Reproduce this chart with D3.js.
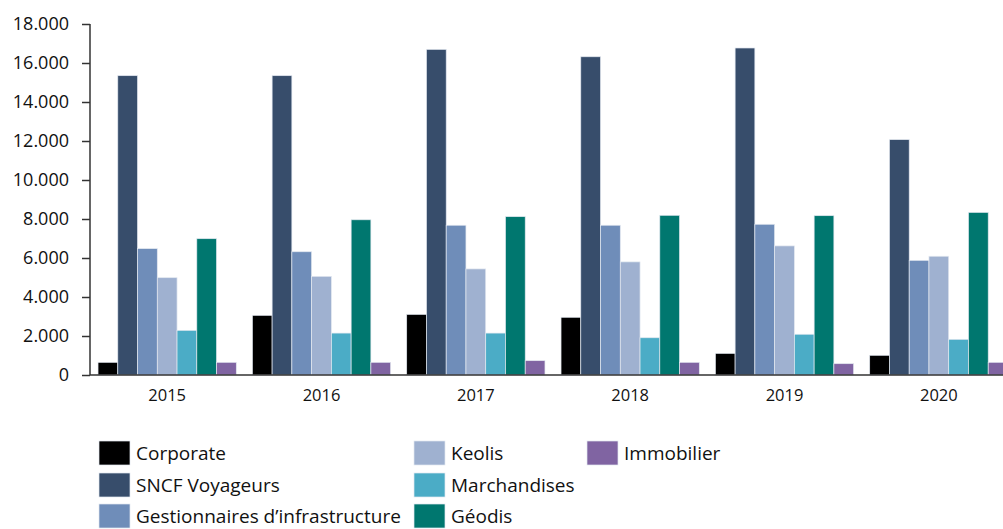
<!DOCTYPE html>
<html>
<head>
<meta charset="utf-8">
<script src="https://cdn.jsdelivr.net/npm/d3@7/dist/d3.min.js"></script>
<style>
  html, body { margin: 0; padding: 0; background: #fff; }
  svg { display: block; }
</style>
</head>
<body>
<div id="chart"></div>
<script>
// categories and series
var years = ["2015", "2016", "2017", "2018", "2019", "2020"];
var series = ["Corporate", "SNCF Voyageurs", "Gestionnaires d\u2019infrastructure", "Keolis", "Marchandises", "Géodis", "Immobilier"];
var colors = ["#000000", "#374d6b", "#6f8db9", "#9fb1d0", "#4bacc6", "#00776f", "#8064a2"];

var corporate     = [650, 3060, 3110, 2960, 1110, 1010];
var sncfVoyageurs = [15350, 15350, 16700, 16320, 16770, 12070];
var gestionnaires = [6480, 6320, 7680, 7680, 7730, 5880];
var keolis        = [4990, 5060, 5440, 5800, 6620, 6090];
var marchandises  = [2290, 2150, 2150, 1910, 2090, 1830];
var geodis        = [6990, 7960, 8120, 8190, 8170, 8340];
var immobilier    = [650, 650, 735, 650, 580, 650];

var yTicks = [0, 2000, 4000, 6000, 8000, 10000, 12000, 14000, 16000, 18000];

var values = [corporate, sncfVoyageurs, gestionnaires, keolis, marchandises, geodis, immobilier];

var w = 1003, h = 529;
var svg = d3.select("#chart").append("svg")
    .attr("width", w)
    .attr("height", h);

svg.append("rect").attr("width", w).attr("height", h).attr("fill", "#fff");

var x0 = d3.scaleBand().domain(years).range([90, 1016]).paddingInner(0.104).paddingOuter(0.052);
var x1 = d3.scaleBand().domain(d3.range(series.length)).range([0, x0.bandwidth()]);
var y = d3.scaleLinear().domain([0, 18000]).range([375, 24]);

// bars
var groups = svg.append("g").selectAll("g")
    .data(years)
    .join("g")
    .attr("transform", function (d) { return "translate(" + x0(d) + ",0)"; });

groups.selectAll("rect")
    .data(function (d, i) {
        return values.map(function (v, s) { return { s: s, v: v[i] }; });
    })
    .join("rect")
    .attr("x", function (d) { return x1(d.s); })
    .attr("y", function (d) { return y(d.v); })
    .attr("width", x1.bandwidth())
    .attr("height", function (d) { return y(0) - y(d.v); })
    .attr("fill", function (d) { return colors[d.s]; })
    .attr("stroke", "#e3e8f0")
    .attr("stroke-width", 0.7);

// y axis
var fmt = function (d) { return d === 0 ? "0" : d3.format(",")(d).replace(/,/g, "."); };
var yAxis = svg.append("g")
    .attr("transform", "translate(90,0)")
    .call(d3.axisLeft(y).tickValues(yTicks).tickFormat(fmt).tickSize(8).tickPadding(13));
yAxis.select(".domain").attr("stroke", "#333").attr("stroke-width", 1.5).attr("d", "M0,24V375");
yAxis.selectAll(".tick line").attr("stroke", "#333").attr("stroke-width", 1.5);
yAxis.selectAll("text")
    .attr("font-family", "Open Sans")
    .attr("font-size", 18)
    .attr("fill", "#111");

// x axis baseline
var xAxis = svg.append("g")
    .attr("transform", "translate(0,375)")
    .call(d3.axisBottom(x0).tickSize(0).tickPadding(14));
xAxis.select(".domain").attr("stroke", "#333").attr("stroke-width", 1.5).attr("d", "M90,0H1003");
xAxis.selectAll("text")
    .attr("font-family", "Open Sans")
    .attr("font-size", 16.5)
    .attr("fill", "#111");

// legend, three columns
var legendCols = [99, 414, 587];
var legendRows = [453, 485, 516];
var legendPos = [[0, 0], [0, 1], [0, 2], [1, 0], [1, 1], [1, 2], [2, 0]];

var legend = svg.append("g").selectAll("g")
    .data(series)
    .join("g")
    .attr("transform", function (d, i) {
        return "translate(" + legendCols[legendPos[i][0]] + "," + legendRows[legendPos[i][1]] + ")";
    });

legend.append("rect")
    .attr("x", 0)
    .attr("y", -12)
    .attr("width", 31)
    .attr("height", 24)
    .attr("fill", function (d, i) { return colors[i]; })
    .attr("stroke", "#e3e8f0")
    .attr("stroke-width", 0.7);

legend.append("text")
    .attr("x", 37)
    .attr("y", 0)
    .attr("dy", "0.35em")
    .attr("font-family", "Open Sans")
    .attr("font-size", 19)
    .attr("fill", "#111")
    .text(function (d) { return d; });
</script>
</body>
</html>
